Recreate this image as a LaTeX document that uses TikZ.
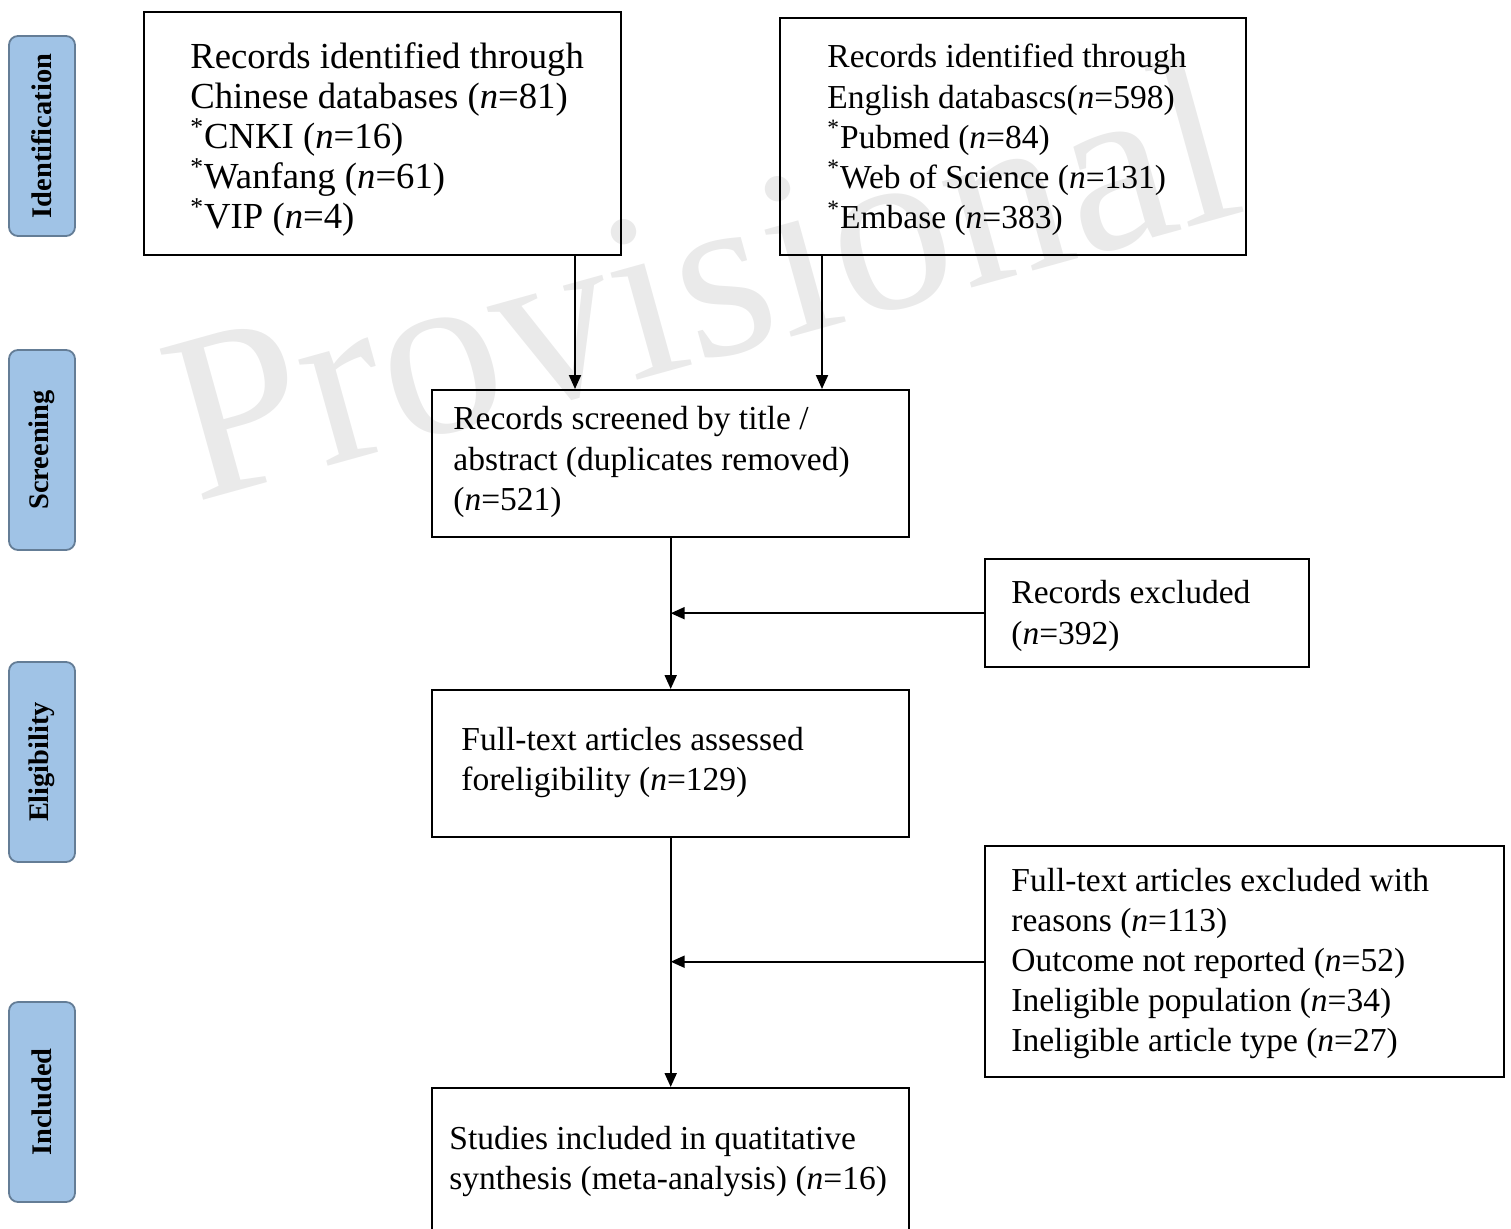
\documentclass[tikz,border=0pt]{standalone}
\usepackage{fontspec}
\setmainfont{Liberation Serif}
\usetikzlibrary{arrows.meta}
\definecolor{phasefill}{RGB}{160,195,230}
\definecolor{phaseline}{RGB}{100,125,150}
\definecolor{wmgray}{RGB}{234,234,234}
\newcommand{\nn}{\textit{n}}
\newcommand{\st}{\smash{\textsuperscript{*}}}
\begin{document}
\begin{tikzpicture}[x=0.5pt,y=-0.5pt,
  flowbox/.style={draw, line width=1.2pt, anchor=north west, inner sep=0pt},
  flowtext/.style={anchor=west, align=left, inner sep=0pt,
    font=\fontsize{16.75}{20.1}\selectfont},
  phasebox/.style={draw=phaseline, fill=phasefill, line width=0.9pt, rounded corners=4.5pt,
    rotate=90, minimum width=100pt, minimum height=33pt, inner sep=0pt,
    font=\bfseries\fontsize{14.2}{16}\selectfont},
  arr/.style={line width=1pt, -{Triangle[length=7pt,width=6pt]}}]
\useasboundingbox (0,0) rectangle (1511,1228);
% watermark
\node[anchor=base west, rotate=15.5, text=wmgray, inner sep=0pt,
  font=\fontsize{120}{120}\selectfont] (wm) at (195,503) {Provisional};
% phase labels
\node[phasebox] (p1) at (42,136) {Identification};
\node[phasebox] (p2) at (42,450) {Screening};
\node[phasebox] (p3) at (42,762) {Eligibility};
\node[phasebox] (p4) at (42,1102) {Included};
% boxes
\node[flowbox, minimum width=238.5pt, minimum height=121.5pt] (A) at (143,11) {};
\node[flowbox, minimum width=233pt, minimum height=118.5pt] (B) at (779,17) {};
\node[flowbox, minimum width=238.5pt, minimum height=73.5pt] (C) at (431,389) {};
\node[flowbox, minimum width=162pt, minimum height=54pt] (D) at (984,558) {};
\node[flowbox, minimum width=238.5pt, minimum height=73.5pt] (E) at (431,689) {};
\node[flowbox, minimum width=259.5pt, minimum height=115.5pt] (F) at (984,845) {};
\node[flowbox, minimum width=238.5pt, minimum height=80pt] (G) at (431,1087) {};
% texts
\node[flowtext, font=\fontsize{18.35}{20}\selectfont] (At) at (190,139)
  {Records identified through\\Chinese databases (\nn=81)\\\st CNKI (\nn=16)\\\st Wanfang (\nn=61)\\\st VIP (\nn=4)};
\node[flowtext] (Bt) at (827,140)
  {Records identified through\\English databascs(\nn=598)\\\st Pubmed (\nn=84)\\\st Web of Science (\nn=131)\\\st Embase (\nn=383)};
\node[flowtext] (Ct) at (453,462)
  {Records screened by title /\\abstract (duplicates removed)\\(\nn=521)};
\node[flowtext] (Dt) at (1011,616)
  {Records excluded\\(\nn=392)};
\node[flowtext] (Et) at (461,762.5)
  {Full-text articles assessed\\foreligibility (\nn=129)};
\node[flowtext] (Ft) at (1011,963.5)
  {Full-text articles excluded with\\reasons (\nn=113)\\Outcome not reported (\nn=52)\\Ineligible population (\nn=34)\\Ineligible article type (\nn=27)};
\node[flowtext] (Gt) at (449,1161.5)
  {Studies included in quatitative\\synthesis (meta-analysis) (\nn=16)};
% connectors
\coordinate (xa) at (575,0);
\coordinate (xb) at (822,0);
\draw[arr] (A.south -| xa) -- (C.north -| xa);
\draw[arr] (B.south -| xb) -- (C.north -| xb);
\draw[arr] (C.south) -- (E.north);
\draw[arr] (E.south) -- (G.north);
\draw[arr] (D.west) -- (D.west -| C.south);
\draw[arr] (F.west) -- (F.west -| E.south);
\end{tikzpicture}
\end{document}
